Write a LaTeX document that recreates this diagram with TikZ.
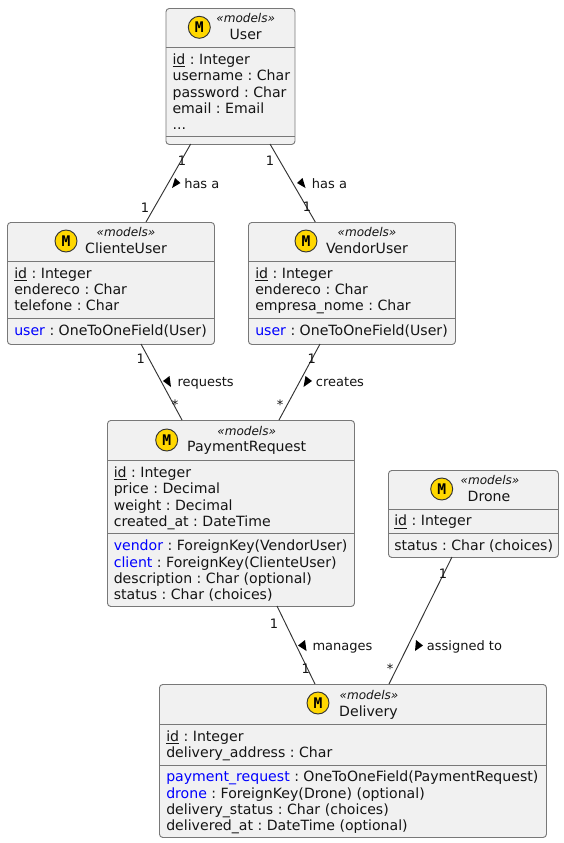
\documentclass[tikz,border=0pt]{standalone}
\usepackage{fontspec}
\setmainfont{DejaVu Sans}
\newfontfamily\iconfont{DejaVu Sans Mono}
\definecolor{boxfill}{HTML}{F1F1F1}
\definecolor{boxline}{HTML}{787878}
\definecolor{iconfill}{HTML}{FFD700}
\newcommand{\lk}[1]{\textcolor{blue}{#1}}
\tikzset{
  x=0.75pt,y=-0.75pt,
  umlbox/.style={draw=boxline,fill=boxfill,rounded corners=2.5pt,line width=0.7pt,inner sep=0,anchor=north west},
  sepline/.style={draw=boxline,line width=0.7pt},
  txt/.style={anchor=base west,inner sep=0,font=\fontsize{10.58}{12}\selectfont\frenchspacing,text=black!92},
  title/.style={anchor=base,inner sep=0,font=\fontsize{10.58}{12}\selectfont,text=black!92},
  stereo/.style={anchor=base,inner sep=0,font=\fontsize{9.05}{10}\itshape\selectfont,text=black!92},
  icon/.style={circle,draw=black!80,fill=iconfill,line width=0.7pt,minimum size=16.5pt,inner sep=0,font=\fontsize{11}{12}\iconfont\bfseries\selectfont},
  mult/.style={anchor=base,inner sep=0,font=\fontsize{9.75}{12}\selectfont,text=black!92},
  lbl/.style={anchor=base west,inner sep=0,font=\fontsize{9.75}{12}\selectfont,text=black!92},
  link/.style={draw=black!80,line width=0.7pt},
  dirmark/.style={fill=black,draw=none},
}
\newcommand{\umlnode}[5]{% name, x1,y1,x2,y2
  \node[umlbox,minimum width=#4*0.75pt-#2*0.75pt,minimum height=#5*0.75pt-#3*0.75pt] (#1) at (#2,#3) {};}
\begin{document}
\begin{tikzpicture}
\useasboundingbox (0,0) rectangle (564,843);
\fill[white] (0,0) rectangle (564,843);

% User
\umlnode{user}{165.5}{8}{294.5}{144}
\draw[sepline] (165.5,47) -- (294.5,47) (165.5,136) -- (294.5,136);
\node[icon] (userIcon) at (199.3,27.3) {M};
\node[stereo] (userS) at (245.7,22.7) {«models»};
\node[title] (userT) at (245.7,39.3) {User};
\node[txt] (u1) at (172.3,64) {\underline{id} : Integer};
\node[txt] (u2) at (172.3,80.6) {username : Char};
\node[txt] (u3) at (172.3,97) {password : Char};
\node[txt] (u4) at (172.3,113.3) {email : Email};
\node[txt] (u5) at (172.3,129.6) {...};

% ClienteUser
\umlnode{cliente}{7}{222}{214}{344}
\draw[sepline] (7,261) -- (214,261) (7,318) -- (214,318);
\node[icon] (cIcon) at (66,241) {M};
\node[stereo] (cS) at (126,236.7) {«models»};
\node[title] (cT) at (126,253.3) {ClienteUser};
\node[txt] (c1) at (14,278) {\underline{id} : Integer};
\node[txt] (c2) at (14,294.4) {endereco : Char};
\node[txt] (c3) at (14,310.7) {telefone : Char};
\node[txt] (c4) at (14,335.5) {\lk{user} : OneToOneField(User)};

% VendorUser
\umlnode{vendor}{248}{222}{455}{344}
\draw[sepline] (248,261) -- (455,261) (248,318) -- (455,318);
\node[icon] (vIcon) at (306,241) {M};
\node[stereo] (vS) at (367,236.7) {«models»};
\node[title] (vT) at (367,253.3) {VendorUser};
\node[txt] (v1) at (255,278) {\underline{id} : Integer};
\node[txt] (v2) at (255,294.4) {endereco : Char};
\node[txt] (v3) at (255,310.7) {empresa\_nome : Char};
\node[txt] (v4) at (255,335.5) {\lk{user} : OneToOneField(User)};

% PaymentRequest
\umlnode{payment}{107}{420}{354}{606}
\draw[sepline] (107,460) -- (354,460) (107,533.5) -- (354,533.5);
\node[icon] (pIcon) at (166.7,440) {M};
\node[stereo] (pS) at (246.7,435.7) {«models»};
\node[title] (pT) at (246.7,451.7) {PaymentRequest};
\node[txt] (p1) at (113.5,477.3) {\underline{id} : Integer};
\node[txt] (p2) at (113.5,493.6) {price : Decimal};
\node[txt] (p3) at (113.5,510) {weight : Decimal};
\node[txt] (p4) at (113.5,526.3) {created\_at : DateTime};
\node[txt] (p5) at (113.5,550.7) {\lk{vendor} : ForeignKey(VendorUser)};
\node[txt] (p6) at (113.5,567) {\lk{client} : ForeignKey(ClienteUser)};
\node[txt] (p7) at (113.5,583.4) {description : Char (optional)};
\node[txt] (p8) at (113.5,599.7) {status : Char (choices)};

% Drone
\umlnode{drone}{388}{470}{558}{557}
\draw[sepline] (388,509) -- (558,509) (388,533) -- (558,533);
\node[icon] (dIcon) at (441.7,489) {M};
\node[stereo] (dS) at (490,484.3) {«models»};
\node[title] (dT) at (489,501) {Drone};
\node[txt] (d1) at (394,525.7) {\underline{id} : Integer};
\node[txt] (d2) at (394,550.3) {status : Char (choices)};

% Delivery
\umlnode{delivery}{159}{684}{546}{837}
\draw[sepline] (159,724) -- (546,724) (159,765) -- (546,765);
\node[icon] (eIcon) at (318,703) {M};
\node[stereo] (eS) at (369,699.3) {«models»};
\node[title] (eT) at (368.5,716) {Delivery};
\node[txt] (e1) at (166,741) {\underline{id} : Integer};
\node[txt] (e2) at (166,757.4) {delivery\_address : Char};
\node[txt] (e3) at (166,781.7) {\lk{payment\_request} : OneToOneField(PaymentRequest)};
\node[txt] (e4) at (166,798) {\lk{drone} : ForeignKey(Drone) (optional)};
\node[txt] (e5) at (166,814.3) {delivery\_status : Char (choices)};
\node[txt] (e6) at (166,830.7) {delivered\_at : DateTime (optional)};

% Connector ends on the box borders
\coordinate (a1) at (190.7,144); \coordinate (a2) at (146,222);
\coordinate (b1) at (270,144); \coordinate (b2) at (315.3,222);
\coordinate (r1) at (141,344); \coordinate (r2) at (182,420);
\coordinate (k1) at (320,344); \coordinate (k2) at (279,420);
\coordinate (m1) at (277,606); \coordinate (m2) at (315,684);
\coordinate (g1) at (452,557); \coordinate (g2) at (389,684);
\draw[link] (a1) -- (a2);
\draw[link] (b1) -- (b2);
\draw[link] (r1) -- (r2);
\draw[link] (k1) -- (k2);
\draw[link] (m1) -- (m2);
\draw[link] (g1) -- (g2);

% Multiplicities
\node[mult] (a1m) at (182,165) {1};
\node[mult] (a2m) at (145,212) {1};
\node[mult] (b1m) at (270,165) {1};
\node[mult] (b2m) at (307,211) {1};
\node[mult] (r1m) at (140.7,363) {1};
\node[mult] (r2m) at (175,409) {*};
\node[mult] (k1m) at (311.7,363) {1};
\node[mult] (k2m) at (280,409) {*};
\node[mult] (m1m) at (274,628) {1};
\node[mult] (m2m) at (305.7,673) {1};
\node[mult] (g1m) at (443,578) {1};
\node[mult] (g2m) at (390,673) {*};

% Labels
\node[lbl] (al) at (184,188) {has a};
\node[lbl] (bl) at (311.7,188) {has a};
\node[lbl] (rl) at (177.3,386) {requests};
\node[lbl] (kl) at (315.7,386) {creates};
\node[lbl] (ml) at (312.3,650) {manages};
\node[lbl] (gl) at (426.7,650) {assigned to};

% Direction marks
\fill[dirmark] (175,178) -- (180.5,183) -- (172,188) -- cycle;
\fill[dirmark] (302.5,178) -- (297,183) -- (305.5,188) -- cycle;
\fill[dirmark] (169.5,376) -- (163,381) -- (171,387) -- cycle;
\fill[dirmark] (305.5,376) -- (312,381) -- (303.5,387) -- cycle;
\fill[dirmark] (305,640) -- (298,645.5) -- (306.5,651) -- cycle;
\fill[dirmark] (416,640) -- (423,645.5) -- (415,651) -- cycle;
\end{tikzpicture}
\end{document}
